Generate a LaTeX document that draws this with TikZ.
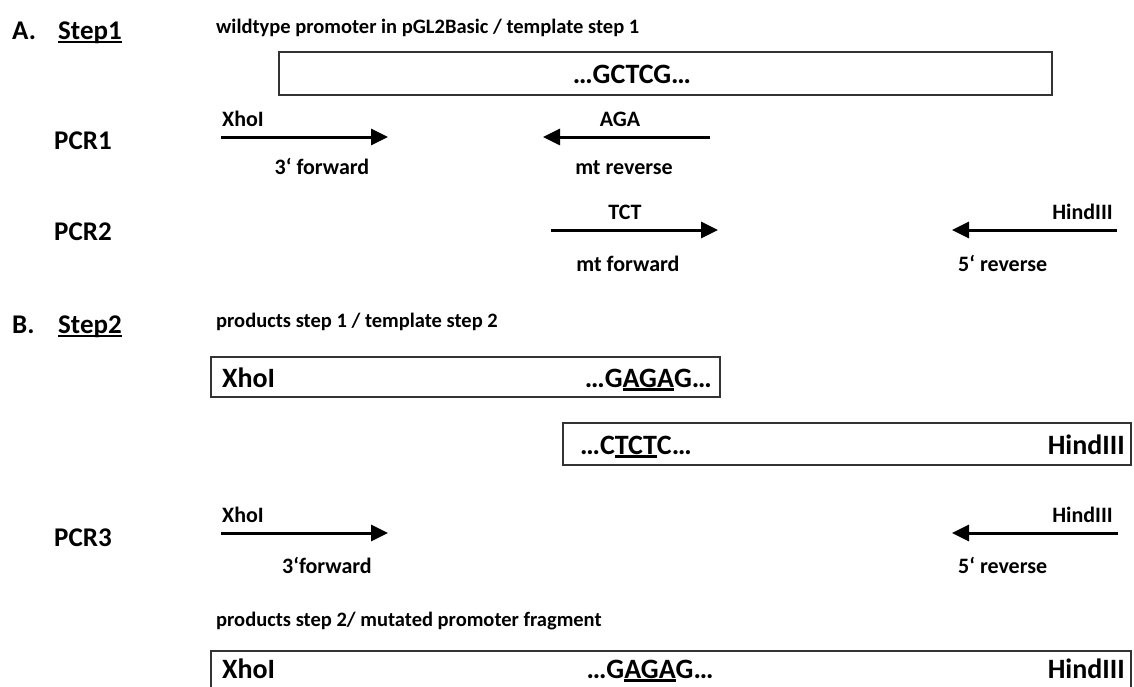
\documentclass[tikz,border=0pt]{standalone}
\usepackage{fontspec}
\setmainfont{Carlito}
\usetikzlibrary{arrows.meta}
% thick underline that does not change the height of the text box
\newcommand{\thickul}[2][3pt]{\setbox0\hbox{#2}\rlap{\smash{\rule[-4pt]{\wd0}{#1}}}\box0}
\tikzset{
  big/.style={font=\bfseries\fontsize{28}{32}\selectfont, inner sep=0pt},
  head/.style={font=\bfseries\fontsize{27}{32}\selectfont, inner sep=0pt},
  small/.style={font=\bfseries\fontsize{22}{26}\selectfont, inner sep=0pt},
  title/.style={font=\bfseries\fontsize{20.5}{25}\selectfont, inner sep=0pt, anchor=base west},
  frag/.style={draw=black!80, line width=1.3pt},
  primer/.style={line width=3pt, -{Triangle[length=17pt,width=16pt]}},
}
\begin{document}
\begin{tikzpicture}[x=1pt,y=-1pt]
\clip (0,0) rectangle (1134,686);
\fill[white] (0,0) rectangle (1134,686);

% ---------------- A. Step 1 ----------------
\node[head, anchor=base west] (A) at (12,39) {A.};
\node[head, anchor=base west] (step1) at (58,39) {\thickul[2pt]{Step1}};
\node[title] (t1) at (216,33) {wildtype promoter in pGL2Basic / template step 1};
\draw[frag] (279,52) rectangle (1052,95);
\node[big, anchor=base] (wt) at (632,83) {…GCTCG…};

\node[head, anchor=base west] (pcr1) at (54,149) {PCR1};
\coordinate (f1s) at (221,137); \coordinate (f1e) at (388,137);
\draw[primer] (f1s) -- (f1e);
\node[small, anchor=base west] (f1t) at (222,126) {XhoI};
\node[small, anchor=base] (f1b) at (322,174) {3‘ forward};
\coordinate (r1s) at (710,137); \coordinate (r1e) at (543,137);
\draw[primer] (r1s) -- (r1e);
\node[small, anchor=base] (r1t) at (620,126) {AGA};
\node[small, anchor=base] (r1b) at (624,174) {mt reverse};

\node[head, anchor=base west] (pcr2) at (54,240) {PCR2};
\coordinate (f2s) at (551,230); \coordinate (f2e) at (718,230);
\draw[primer] (f2s) -- (f2e);
\node[small, anchor=base] (f2t) at (625,219) {TCT};
\node[small, anchor=base] (f2b) at (628,271) {mt forward};
\coordinate (r2s) at (1117,230); \coordinate (r2e) at (952,230);
\draw[primer] (r2s) -- (r2e);
\node[small, anchor=base east] (r2t) at (1113,219) {HindIII};
\node[small, anchor=base west] (r2b) at (958,271) {5‘ reverse};

% ---------------- B. Step 2 ----------------
\node[head, anchor=base west] (B) at (12,333) {B.};
\node[head, anchor=base west] (step2) at (58,333) {\thickul[2pt]{Step2}};
\node[title] (t2) at (216,327) {products step 1 / template step 2};

\draw[frag] (211,357) rectangle (720,397);
\node[big, anchor=base west] (x1) at (222,387) {XhoI};
\node[big, anchor=base east] (m1) at (712,387) {…G\thickul{AGA}G…};

\draw[frag] (563,423) rectangle (1131,465);
\node[big, anchor=base west] (m2) at (580,454) {…C\thickul{TCT}C…};
\node[big, anchor=base east] (h1) at (1125,454) {HindIII};

\node[head, anchor=base west] (pcr3) at (54,546) {PCR3};
\coordinate (f3s) at (221,533); \coordinate (f3e) at (388,533);
\draw[primer] (f3s) -- (f3e);
\node[small, anchor=base west] (f3t) at (222,522) {XhoI};
\node[small, anchor=base] (f3b) at (327,573) {3‘forward};
\coordinate (r3s) at (1118,533); \coordinate (r3e) at (952,533);
\draw[primer] (r3s) -- (r3e);
\node[small, anchor=base east] (r3t) at (1113,522) {HindIII};
\node[small, anchor=base west] (r3b) at (958,573) {5‘ reverse};

\node[title] (t3) at (216,626) {products step 2/ mutated promoter fragment};
\draw[frag] (211,651) rectangle (1131,700);
\node[big, anchor=base west] (x2) at (222,678) {XhoI};
\node[big, anchor=base] (m3) at (650,678) {…G\thickul{AGA}G…};
\node[big, anchor=base east] (h2) at (1125,678) {HindIII};
\end{tikzpicture}
\end{document}
